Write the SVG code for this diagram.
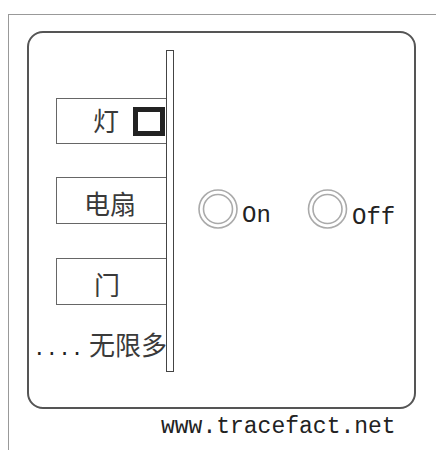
<svg xmlns="http://www.w3.org/2000/svg" width="436" height="450" viewBox="0 0 436 450">
<style>
.frame{fill:none;stroke:#999;stroke-width:1}
.panel{fill:#fff;stroke:#555;stroke-width:2}
.box{fill:#fff;stroke:#666;stroke-width:1}
.bar{fill:#fff;stroke:#444;stroke-width:1}
.cn{font-family:"Noto Sans CJK SC","Noto Sans",sans-serif;font-size:26px;fill:#3a3a3a;text-anchor:middle}
.mono{font-family:"Liberation Mono","Courier New",monospace;font-size:24px;fill:#222}
.ring{fill:#fff;stroke:#aaa;stroke-width:1.6}
</style>
<rect width="436" height="450" fill="#fff"/>
<rect class="frame" x="8.5" y="14.5" width="500" height="500"/>
<rect class="panel" x="28" y="32" width="387" height="376" rx="15" ry="15"/>
<g id="node-light">
<rect class="box" x="56.5" y="98.5" width="110" height="45"/>
<text class="cn" x="106" y="131">灯</text>
<rect x="135.5" y="109.5" width="27" height="24" fill="#fff" stroke="#222" stroke-width="5"/>
</g>
<g id="node-fan">
<rect class="box" x="56.5" y="177.5" width="110" height="46"/>
<text class="cn" x="110" y="214">电扇</text>
</g>
<g id="node-door">
<rect class="box" x="56.5" y="258.5" width="110" height="46"/>
<text class="cn" x="107" y="295">门</text>
</g>
<g id="node-more">
<text y="355"><tspan x="33" class="mono" style="font-size:21px">....</tspan><tspan class="cn" style="text-anchor:start" x="89">无限多</tspan></text>
</g>
<g id="node-bar">
<rect class="bar" x="166.5" y="50.5" width="7" height="321"/>
</g>
<g id="node-on">
<circle class="ring" cx="218" cy="209" r="19"/>
<circle class="ring" cx="218" cy="209" r="14.5"/>
<text class="mono" x="242" y="222">On</text>
</g>
<g id="node-off">
<circle class="ring" cx="327.5" cy="209" r="19"/>
<circle class="ring" cx="327.5" cy="209" r="14.5"/>
<text class="mono" x="352" y="224">Off</text>
</g>
<g id="connectors"></g>
<g id="node-footer">
<text class="mono" x="161" y="433" style="font-size:23px">www.tracefact.net</text>
</g>
</svg>
